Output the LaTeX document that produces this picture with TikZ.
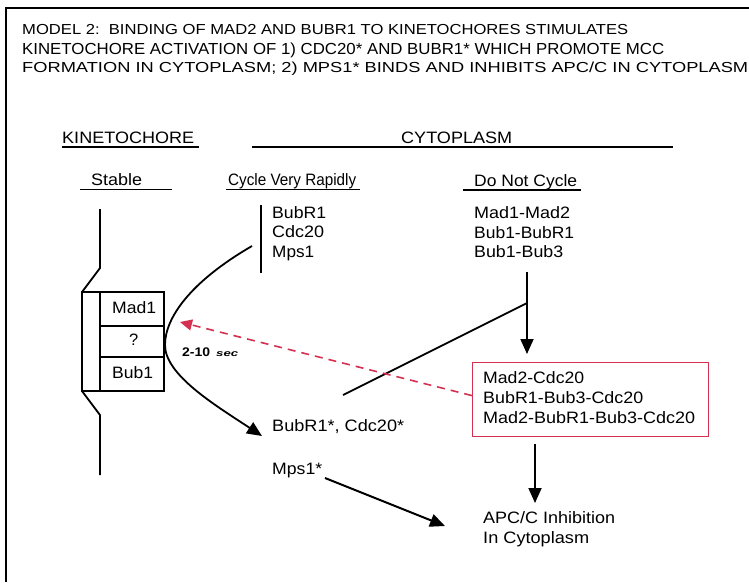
\documentclass[tikz,border=0pt]{standalone}
\usepackage{fontspec}
\setmainfont{Liberation Sans}
\usepackage{graphicx}
\usetikzlibrary{arrows.meta}
\definecolor{boxred}{RGB}{214,48,80}
\newcommand\fw[2]{\resizebox{#1pt}{\height}{#2}}
\begin{document}
\begin{tikzpicture}[x=1pt,y=-1pt,
  t/.style={inner sep=0pt, anchor=base west, font=\fontsize{16.5}{20}\selectfont},
  ttlA/.style={inner sep=0pt, anchor=base west, font=\fontsize{14.5}{16}\selectfont},
  ttlB/.style={inner sep=0pt, anchor=base west, font=\fontsize{16}{18}\selectfont},
  ln/.style={line width=1.8pt},
  tip/.style={-{Triangle[length=15pt,width=13pt]}},
  rtip/.style={-{Triangle[length=12pt,width=11pt]}},
]
\useasboundingbox (0,0) rectangle (749,582);
% frame
\draw[line width=2pt] (749,8) -- (6,8) -- (6,582);
% title
\node[ttlA] (t1) at (22,34.5) {\fw{606}{MODEL 2:\ \ BINDING OF MAD2 AND BUBR1 TO KINETOCHORES STIMULATES}};
\node[ttlB] (t2) at (22,54) {\fw{642}{KINETOCHORE ACTIVATION OF 1) CDC20* AND BUBR1* WHICH PROMOTE MCC}};
\node[ttlA] (t3) at (22,72.5) {\fw{726}{FORMATION IN CYTOPLASM; 2) MPS1* BINDS AND INHIBITS APC/C IN CYTOPLASM}};
% headers
\node[t] (kin) at (62,143) {\fw{132}{KINETOCHORE}};
\node[t] (cyt) at (401,143) {\fw{111}{CYTOPLASM}};
\draw[ln] (62,147) -- (199,147);
\draw[ln] (252,147) -- (673,147);
\node[t] (stab) at (91,185) {\fw{51}{Stable}};
\node[t] (cvr) at (228,185) {\fw{128}{Cycle Very Rapidly}};
\node[t] (dnc) at (474,186) {\fw{103}{Do Not Cycle}};
\draw[ln] (80,189.5) -- (172,189.5);
\draw[ln] (226,189.5) -- (360,189.5);
\draw[ln] (463,190) -- (581,190);
% cycling proteins
\node[t] (bubr1) at (272,218) {\fw{54}{BubR1}};
\node[t] (cdc20) at (272,237) {\fw{52}{Cdc20}};
\node[t] (mps1) at (272,257) {\fw{42}{Mps1}};
\draw[ln] (261,205) -- (261,273);
% non-cycling
\node[t] (mm) at (474,218) {\fw{96}{Mad1-Mad2}};
\node[t] (bb) at (474,238) {\fw{100}{Bub1-BubR1}};
\node[t] (bb3) at (474,257) {\fw{89}{Bub1-Bub3}};
% kinetochore outline and box
\draw[ln] (100,209) -- (100,268) -- (82,292) -- (82,391) -- (100,415) -- (100,475);
\draw[ln] (82,292) rectangle (164,391);
\draw[ln] (100,292) -- (100,391);
\draw[ln] (100,326) -- (164,326);
\draw[ln] (100,357) -- (164,357);
\node[t] (mad1) at (112,313) {\fw{44}{Mad1}};
\node[t] (q) at (129,345) {?};
\node[t] (bub1) at (112,378) {\fw{41}{Bub1}};
\node[inner sep=0pt, anchor=base west, font=\fontsize{12.5}{14}\selectfont\bfseries] (sec) at (182,356)
  {\fw{28}{2-10}\hspace{6pt}{\fontsize{9}{10}\selectfont\itshape\fw{22}{sec}}};
% cycling curve
\coordinate (ctop) at (252,246);
\coordinate (cv) at (165,345);
\coordinate (cend) at (262,436);
\draw[ln,tip] (ctop) .. controls (190,282) and (165,318) .. (cv) .. controls (165,375) and (215,405) .. (cend);
\node[t] (star) at (272,431) {\fw{132}{BubR1*, Cdc20*}};
\node[t] (mpsstar) at (272,474) {\fw{50}{Mps1*}};
% MCC box
\node[draw=boxred, line width=1.2pt, minimum width=236pt, minimum height=74pt, inner sep=0pt, anchor=north west] (mcc) at (472,362) {};
\node[t] (m1) at (483,383) {\fw{101}{Mad2-Cdc20}};
\node[t] (m2) at (483,403) {\fw{160}{BubR1-Bub3-Cdc20}};
\node[t] (m3) at (483,423) {\fw{212}{Mad2-BubR1-Bub3-Cdc20}};
% down arrow into MCC box and merge line
\coordinate (dtop) at (527,272);
\coordinate (djoin) at (527,303);
\coordinate (dtip) at (527,354);
\coordinate (mstart) at (343,395);
\draw[ln,tip] (dtop) -- (dtip);
\draw[ln] (djoin) -- (mstart);
% red dashed return arrow
\coordinate (rend) at (180,322);
\draw[boxred, line width=1.6pt, dash pattern=on 8pt off 6pt, rtip] ([yshift=4pt]mcc.west) -- (rend);
% APC/C
\node[t] (apc) at (483,523) {\fw{132}{APC/C Inhibition}};
\node[t] (incyt) at (483,543) {\fw{106}{In Cytoplasm}};
\coordinate (a2top) at (535,444);
\coordinate (a2tip) at (535,503);
\draw[ln,tip] (a2top) -- (a2tip);
\coordinate (mpsa) at (325,478);
\coordinate (mpsb) at (445,526);
\draw[line width=2pt,tip] (mpsa) -- (mpsb);
\end{tikzpicture}
\end{document}
